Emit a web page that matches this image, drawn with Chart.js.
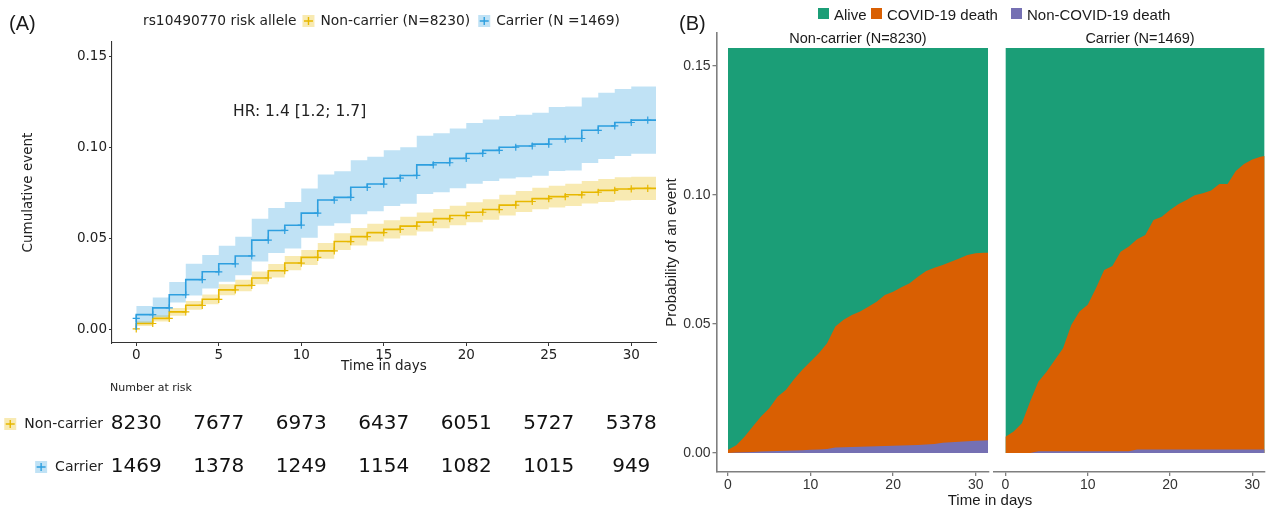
<!DOCTYPE html>
<html><head><meta charset="utf-8">
<script src="https://cdn.jsdelivr.net/npm/chart.js@4.4.1/dist/chart.umd.min.js"></script>
<style>
body{margin:0;background:#fff;width:1271px;height:508px;position:relative;overflow:hidden;}
canvas{position:absolute;}
.t{position:absolute;white-space:nowrap;line-height:1;color:#1a1a1a;}
.sq{position:absolute;width:11px;height:11px;}
</style></head><body>
<canvas id="km" style="left:0;top:0" width="660" height="508"></canvas>
<canvas id="fb1" style="left:660px;top:0" width="332" height="508"></canvas>
<canvas id="fb2" style="left:990px;top:0" width="281" height="508"></canvas>

<div class="t" style="left:9px;top:12px;font:20px 'Liberation Sans',sans-serif;">(A)</div>
<div class="t" style="left:679px;top:12px;font:20px 'Liberation Sans',sans-serif;">(B)</div>
<div class="sq" style="left:818px;top:8px;background:#1B9E77"></div>
<div class="t" style="left:834px;top:6px;font:15px 'Liberation Sans',sans-serif;">Alive</div>
<div class="sq" style="left:871px;top:8px;background:#D95F02"></div>
<div class="t" style="left:887px;top:6px;font:15px 'Liberation Sans',sans-serif;">COVID-19 death</div>
<div class="sq" style="left:1011px;top:8px;background:#7570B3"></div>
<div class="t" style="left:1027px;top:6px;font:15px 'Liberation Sans',sans-serif;">Non-COVID-19 death</div>
<div class="t" id="s1" style="top:30px;font:14.5px 'Liberation Sans',sans-serif;transform:translateX(-50%);left:858px;">Non-carrier (N=8230)</div>
<div class="t" id="s2" style="top:30px;font:14.5px 'Liberation Sans',sans-serif;transform:translateX(-50%);left:1140px;">Carrier (N=1469)</div>
<div class="t" style="top:491px;left:990px;transform:translateX(-50%);font:15px 'Liberation Sans',sans-serif;">Time in days</div>

<script>
// ---------- Panel A data ----------
const kmDays = [0,1,2,3,4,5,6,7,8,9,10,11,12,13,14,15,16,17,18,19,20,21,22,23,24,25,26,27,28,29,30,31];
const followUpEnd = 31.5;
const nonCarrierCum  = [0.0005,0.0034,0.0062,0.0098,0.0134,0.0167,0.0219,0.0243,0.0284,0.0324,0.0366,0.0397,0.0433,0.0484,0.0511,0.0533,0.0551,0.0569,0.0591,0.0610,0.0627,0.0645,0.0660,0.0684,0.0704,0.0720,0.0731,0.0741,0.0755,0.0765,0.0773,0.0776];
const nonCarrierLow  = [0.0000,0.0021,0.0045,0.0077,0.0110,0.0140,0.0189,0.0211,0.0249,0.0287,0.0327,0.0356,0.0390,0.0438,0.0463,0.0484,0.0501,0.0518,0.0539,0.0557,0.0573,0.0590,0.0604,0.0627,0.0646,0.0661,0.0671,0.0680,0.0693,0.0702,0.0709,0.0712];
const nonCarrierHigh = [0.0014,0.0047,0.0079,0.0119,0.0158,0.0194,0.0249,0.0275,0.0319,0.0361,0.0405,0.0438,0.0476,0.0530,0.0559,0.0582,0.0601,0.0620,0.0643,0.0663,0.0681,0.0700,0.0716,0.0741,0.0762,0.0779,0.0791,0.0802,0.0817,0.0828,0.0837,0.0840];
const carrierCum     = [0.0062,0.0083,0.0120,0.0192,0.0275,0.0318,0.0362,0.0405,0.0492,0.0545,0.0574,0.0640,0.0712,0.0727,0.0782,0.0800,0.0832,0.0847,0.0905,0.0917,0.0941,0.0968,0.0985,0.1002,0.1009,0.1019,0.1047,0.1050,0.1095,0.1119,0.1138,0.1151];
const carrierLow     = [0.0024,0.0036,0.0070,0.0150,0.0188,0.0226,0.0263,0.0299,0.0375,0.0421,0.0446,0.0505,0.0571,0.0584,0.0634,0.0650,0.0679,0.0692,0.0745,0.0755,0.0777,0.0801,0.0816,0.0831,0.0837,0.0846,0.0871,0.0874,0.0915,0.0937,0.0954,0.0966];
const carrierHigh    = [0.0101,0.0130,0.0177,0.0262,0.0362,0.0410,0.0461,0.0511,0.0609,0.0669,0.0702,0.0775,0.0853,0.0870,0.0930,0.0950,0.0985,0.1002,0.1065,0.1079,0.1105,0.1135,0.1154,0.1173,0.1181,0.1192,0.1223,0.1226,0.1275,0.1301,0.1322,0.1336];
const xTicksA = [0,5,10,15,20,25,30];
const yTicksA = [0,0.05,0.10,0.15];
const riskDays = [0,5,10,15,20,25,30];
const riskNonCarrier = [8230,7677,6973,6437,6051,5727,5378];
const riskCarrier = [1469,1378,1249,1154,1082,1015,949];
const groupLabelsA = ['Non-carrier (N=8230)','Carrier (N =1469)'];
const riskRowLabels = ['Non-carrier','Carrier'];
const legendTitleA = 'rs10490770 risk allele';
const hrText = 'HR: 1.4 [1.2; 1.7]';

// ---------- Panel B data ----------
const bDays = [0,1,2,3,4,5,6,7,8,9,10,11,12,13,14,15,16,17,18,19,20,21,22,23,24,25,26,27,28,29,30,31,31.5];
const nonCarrierEventTop = [0.0012,0.0030,0.0063,0.0102,0.0141,0.0173,0.0218,0.0244,0.0286,0.0322,0.0354,0.0386,0.0425,0.0490,0.0516,0.0535,0.0548,0.0567,0.0586,0.0612,0.0625,0.0642,0.0658,0.0683,0.0705,0.0718,0.0729,0.0741,0.0754,0.0767,0.0774,0.0776,0.0776];
const nonCarrierNonCovidTop = [0,0.0002,0.0003,0.0004,0.0005,0.0006,0.0007,0.0008,0.0009,0.0010,0.0012,0.0013,0.0015,0.0021,0.0022,0.0023,0.0024,0.0025,0.0026,0.0027,0.0028,0.0029,0.0030,0.0031,0.0033,0.0035,0.0039,0.0041,0.0043,0.0045,0.0047,0.0048,0.0049];
const carrierEventTop = [0.0063,0.0083,0.0115,0.0199,0.0276,0.0315,0.0360,0.0406,0.0496,0.0548,0.0574,0.0638,0.0709,0.0725,0.0780,0.0800,0.0828,0.0845,0.0903,0.0916,0.0942,0.0964,0.0981,0.0999,0.1007,0.1017,0.1043,0.1043,0.1093,0.1120,0.1138,0.1148,0.1151];
const carrierNonCovidTop = [0,0,0,0,0.0006,0.0006,0.0006,0.0006,0.0006,0.0006,0.0006,0.0006,0.0006,0.0006,0.0006,0.0006,0.0013,0.0013,0.0013,0.0013,0.0013,0.0013,0.0013,0.0013,0.0013,0.0013,0.0013,0.0013,0.0013,0.0013,0.0013,0.0013,0.0013];
const aliveCeiling = 0.157;
const xTicksB = [0,10,20,30];
const yTicksB = [0,0.05,0.10,0.15];

// ---------- styles ----------
const YELLOW = '#E7B800', BLUE = '#2E9FDF';
const YELLOW_BAND = 'rgba(231,184,0,0.3)', BLUE_BAND = 'rgba(46,159,223,0.3)';
const GREEN = '#1B9E77', ORANGE = '#D95F02', PURPLE = '#7570B3';
const FA = '"DejaVu Sans", sans-serif';
const FB = '"Liberation Sans", Arial, sans-serif';

function stepPts(vals, withStart){
  const pts = [];
  if (withStart) pts.push({x:kmDays[0], y:0, m:false});
  kmDays.forEach((d,i)=>pts.push({x:d, y:vals[i], m:withStart}));
  pts.push({x:followUpEnd, y:vals[vals.length-1], m:false});
  return pts;
}
function lineDs(vals,color){
  return {data:stepPts(vals,true), borderColor:color, borderWidth:1.6, stepped:'after', fill:false,
    pointStyle:'cross', pointRadius:c=>(c.raw&&c.raw.m)?3.6:0, pointBorderColor:color, pointBorderWidth:1.2,
    pointBackgroundColor:color};
}
function bandDs(vals,fill,color){
  return {data:stepPts(vals,false), borderWidth:0, pointRadius:0, stepped:'after', fill:fill, backgroundColor:color, borderColor:'rgba(0,0,0,0)'};
}
function drawKey(ctx,x,cy,color,band){
  ctx.fillStyle = band; ctx.fillRect(x, cy-6, 12, 12);
  ctx.strokeStyle = color; ctx.lineWidth = 1.4;
  ctx.beginPath(); ctx.moveTo(x+1.5,cy); ctx.lineTo(x+10.5,cy); ctx.moveTo(x+6,cy-4); ctx.lineTo(x+6,cy+4); ctx.stroke();
}
const kmDecor = {
  id:'kmDecor',
  afterDraw(chart){
    const ctx = chart.ctx, xs = chart.scales.x;
    ctx.save();
    ctx.textBaseline = 'middle'; ctx.textAlign = 'left';
    ctx.font = '13.8px '+FA; ctx.fillStyle = '#222';
    let x = 143; const y = 21;
    ctx.fillText(legendTitleA, x, y); x += ctx.measureText(legendTitleA).width + 6;
    drawKey(ctx, x, y, YELLOW, YELLOW_BAND); x += 18;
    ctx.fillStyle = '#222'; ctx.fillText(groupLabelsA[0], x, y); x += ctx.measureText(groupLabelsA[0]).width + 8;
    drawKey(ctx, x, y, BLUE, BLUE_BAND); x += 18;
    ctx.fillStyle = '#222'; ctx.fillText(groupLabelsA[1], x, y);
    ctx.font = '15.5px '+FA; ctx.fillText(hrText, 233, 112);
    ctx.font = '11px '+FA; ctx.fillText('Number at risk', 110, 388);
    const rows = [[riskNonCarrier, 424, YELLOW, YELLOW_BAND, riskRowLabels[0]], [riskCarrier, 467, BLUE, BLUE_BAND, riskRowLabels[1]]];
    rows.forEach(([vals, ry, col, band, lab])=>{
      ctx.font = '14px '+FA; ctx.textAlign = 'right'; ctx.fillStyle = '#222';
      ctx.fillText(lab, 103, ry);
      const w = ctx.measureText(lab).width;
      drawKey(ctx, 103 - w - 20, ry, col, band);
      ctx.font = '20px '+FA; ctx.textAlign = 'center'; ctx.fillStyle = '#111';
      vals.forEach((v,i)=>ctx.fillText(String(v), xs.getPixelForValue(riskDays[i]), ry));
    });
    ctx.restore();
  }
};

new Chart(document.getElementById('km'), {
  type:'line',
  data:{datasets:[
    lineDs(carrierCum, BLUE),
    lineDs(nonCarrierCum, YELLOW),
    bandDs(carrierHigh, '+1', BLUE_BAND),
    bandDs(carrierLow, false, BLUE_BAND),
    bandDs(nonCarrierHigh, '+1', YELLOW_BAND),
    bandDs(nonCarrierLow, false, YELLOW_BAND)
  ]},
  options:{
    responsive:false, animation:false, devicePixelRatio:1,
    layout:{padding:{left:0,right:4,top:42,bottom:133}},
    plugins:{legend:{display:false}, tooltip:{enabled:false}},
    scales:{
      x:{type:'linear', min:-1.47, max:31.5,
        afterBuildTicks:s=>{s.ticks = xTicksA.map(v=>({value:v}));},
        afterFit:s=>{s.height = 32;},
        grid:{drawOnChartArea:false, drawTicks:true, tickLength:3, color:'#333'},
        border:{display:true, color:'#333', width:1.1},
        ticks:{font:{family:FA,size:13.5}, color:'#222', padding:1, autoSkip:false, maxRotation:0, callback:v=>String(v)},
        title:{display:true, text:'Time in days', font:{family:FA,size:13.5}, color:'#222', padding:{top:0,bottom:0}}
      },
      y:{type:'linear', min:-0.0073, max:0.158,
        afterBuildTicks:s=>{s.ticks = yTicksA.map(v=>({value:v}));},
        afterFit:s=>{s.width = 112;},
        grid:{drawOnChartArea:false, drawTicks:true, tickLength:3, color:'#333'},
        border:{display:true, color:'#333', width:1.1},
        ticks:{font:{family:FA,size:13.5}, color:'#222', padding:2, callback:v=>v.toFixed(2)},
        title:{display:true, text:'Cumulative event', font:{family:FA,size:13.5}, color:'#222', padding:{top:20,bottom:0}}
      }
    }
  },
  plugins:[kmDecor]
});

function pts(xs, ys){ return xs.map((x,i)=>({x:x, y:ys[i]})); }
function facet(id, eventTop, nonCovidTop, showY, pad){
  return new Chart(document.getElementById(id), {
    type:'line',
    data:{datasets:[
      {data:pts(bDays, nonCovidTop), fill:'origin', backgroundColor:PURPLE, borderWidth:0, pointRadius:0, borderColor:'rgba(0,0,0,0)'},
      {data:pts(bDays, eventTop), fill:'origin', backgroundColor:ORANGE, borderWidth:0, pointRadius:0, borderColor:'rgba(0,0,0,0)'},
      {data:[{x:bDays[0], y:aliveCeiling},{x:bDays[bDays.length-1], y:aliveCeiling}], fill:'origin', backgroundColor:GREEN, borderWidth:0, pointRadius:0, borderColor:'rgba(0,0,0,0)'}
    ]},
    options:{
      responsive:false, animation:false, devicePixelRatio:1,
      layout:{padding:pad},
      plugins:{legend:{display:false}, tooltip:{enabled:false}},
      scales:{
        x:{type:'linear', min:-1.39, max:31.55,
          afterBuildTicks:s=>{s.ticks = xTicksB.map(v=>({value:v}));},
          afterFit:s=>{s.height = 36;},
          grid:{drawOnChartArea:false, drawTicks:true, tickLength:4, color:'#7f7f7f', lineWidth:1.3},
          border:{display:true, color:'#7f7f7f', width:1.6},
          ticks:{font:{family:FB,size:14}, color:'#333', padding:1, autoSkip:false, maxRotation:0, callback:v=>String(v)}
        },
        y:{type:'linear', min:-0.0074, max:0.1628, display:showY,
          afterBuildTicks:s=>{s.ticks = yTicksB.map(v=>({value:v}));},
          afterFit:s=>{s.width = showY ? 56.5 : 0;},
          grid:{drawOnChartArea:false, drawTicks:true, tickLength:4, color:'#7f7f7f', lineWidth:1.3},
          border:{display:true, color:'#7f7f7f', width:1.6},
          ticks:{font:{family:FB,size:14}, color:'#333', padding:2, callback:v=>v.toFixed(2)},
          title:{display:true, text:'Probability of an event', font:{family:FB,size:15}, color:'#222', padding:{top:3,bottom:0}}
        }
      }
    }
  });
}
facet('fb1', nonCarrierEventTop, nonCarrierNonCovidTop, true, {left:0,right:3.5,top:33,bottom:0});
facet('fb2', carrierEventTop, carrierNonCovidTop, false, {left:4,right:6,top:33,bottom:0});
</script>
</body></html>
